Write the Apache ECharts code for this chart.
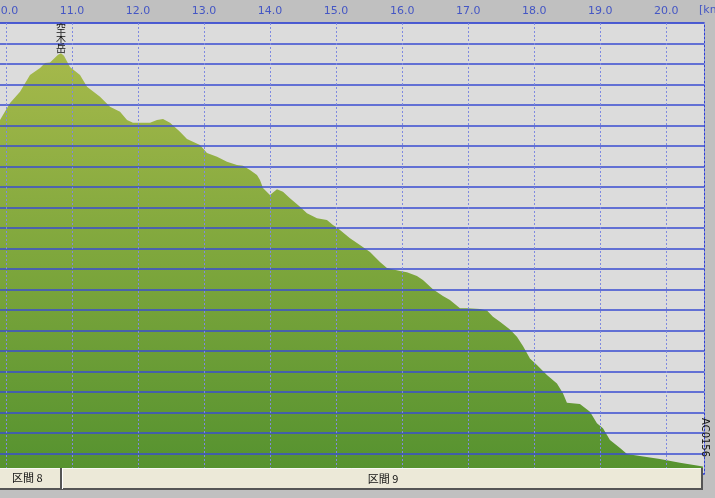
<!DOCTYPE html>
<html><head><meta charset="utf-8">
<script src="https://cdn.jsdelivr.net/npm/echarts@6/dist/echarts.min.js"></script>
<style>html,body{margin:0;padding:0;background:#c0c0c0;}#c{width:715px;height:498px;}</style>
</head><body><div id="c"></div>
<script>
// distance [km]
var distKm = [9.909,10.061,10.212,10.363,10.515,10.591,10.666,10.788,10.833,10.878,10.969,11.121,11.227,11.424,11.575,11.727,11.833,11.923,12.181,12.287,12.378,12.484,12.635,12.741,12.938,13.044,13.196,13.347,13.498,13.589,13.695,13.801,13.847,13.892,13.998,14.104,14.195,14.301,14.453,14.559,14.710,14.861,14.952,15.013,15.210,15.361,15.513,15.664,15.770,15.967,16.073,16.224,16.315,16.467,16.618,16.724,16.876,16.982,17.179,17.285,17.376,17.482,17.633,17.739,17.830,17.936,18.042,18.193,18.345,18.436,18.496,18.693,18.845,18.951,19.042,19.148,19.300,19.406,19.602,19.905,20.208,20.511,20.556];
// elevation [m]
var elevM = [2527,2610,2665,2746,2780,2805,2807,2845,2852,2840,2785,2746,2689,2640,2592,2567,2527,2514,2514,2527,2532,2514,2470,2434,2405,2366,2348,2323,2307,2304,2283,2259,2234,2195,2161,2189,2177,2145,2104,2072,2047,2039,2015,2003,1950,1917,1883,1834,1805,1790,1784,1766,1746,1701,1668,1649,1608,1608,1605,1597,1567,1543,1505,1470,1424,1364,1332,1283,1242,1194,1148,1141,1104,1047,1023,966,927,898,888,873,855,839,837];
var peakName = '空木岳';
var peakKm = 10.833, peakElev = 2852;
var endName = 'AC0156';
var sectionNames = ['区間 8', '区間 9'];
var unitLabel = '[km]';

var data = distKm.map(function(d,i){return [d, elevM[i]];});
var chart = echarts.init(document.getElementById('c'));
chart.setOption({
  animation:false,
  backgroundColor:'#c0c0c0',
  grid:{left:-60, right:10.5, top:23, bottom:24, containLabel:false, outerBoundsMode:'none', show:true, backgroundColor:'#dcdcdc', borderColor:'#2f3fd0', borderWidth:1},
  xAxis:{type:'value', position:'top', min:9, max:20.58, interval:1, z:5,
    axisLine:{show:false}, axisTick:{show:false},
    axisLabel:{showMaxLabel:false, margin:6, color:'#4456c4', fontSize:11, fontFamily:'DejaVu Sans', formatter:function(v){return v.toFixed(1);}},
    splitLine:{show:true, lineStyle:{color:'#7f8ae0', width:1, type:[2,2]}}},
  yAxis:{type:'value', min:800, max:3000, interval:100, z:5,
    axisLine:{show:false}, axisTick:{show:false}, axisLabel:{show:false},
    splitLine:{show:true, lineStyle:{color:'#3a4cd2', width:1.5}}},
  series:[{
    type:'line', data:data, symbol:'none', z:2,
    lineStyle:{width:0},
    areaStyle:{opacity:1, color:new echarts.graphic.LinearGradient(0,0,0,1,[{offset:0,color:'#a6b94b'},{offset:0.5,color:'#7da63c'},{offset:1,color:'#55922f'}])},
    markPoint:{symbolSize:0, silent:true,
      data:[{coord:[peakKm, peakElev], value:peakName}],
      label:{show:true, position:'top', distance:0, formatter:function(p){return p.value.split('').join('\n');}, color:'#111', fontSize:10, lineHeight:10, fontFamily:'Noto Sans CJK JP'}}
  }],
  graphic:[
    {type:'text', left:699, top:5, z:20, style:{text:unitLabel, fill:'#4456c4', font:'11px DejaVu Sans'}},
    {type:'text', x:700, y:418, rotation:-Math.PI/2, z:20, style:{text:endName, fill:'#111', font:'10px DejaVu Sans', textVerticalAlign:'bottom', textAlign:'left'}},
    {type:'rect', z:20, shape:{x:0,y:468,width:703,height:22}, style:{fill:'#ece9d8', stroke:null}},
    {type:'line', z:21, shape:{x1:0,y1:468.5,x2:703,y2:468.5}, style:{stroke:'#f8f8f4', lineWidth:1}},
    {type:'line', z:21, shape:{x1:0,y1:489,x2:703,y2:489}, style:{stroke:'#555', lineWidth:2}},
    {type:'line', z:21, shape:{x1:702,y1:468,x2:702,y2:490}, style:{stroke:'#555', lineWidth:2}},
    {type:'line', z:21, shape:{x1:61,y1:468,x2:61,y2:490}, style:{stroke:'#555', lineWidth:2}},
    {type:'line', z:21, shape:{x1:62.5,y1:468,x2:62.5,y2:489}, style:{stroke:'#ffffff', lineWidth:1}},
    {type:'text', z:22, left:12, top:472, style:{text:sectionNames[0], fill:'#111', font:'11px "Noto Sans CJK JP"'}},
    {type:'text', z:22, x:383, y:479, style:{text:sectionNames[1], fill:'#111', font:'11px "Noto Sans CJK JP"', textAlign:'center', textVerticalAlign:'middle'}}
  ]
});
</script></body></html>
